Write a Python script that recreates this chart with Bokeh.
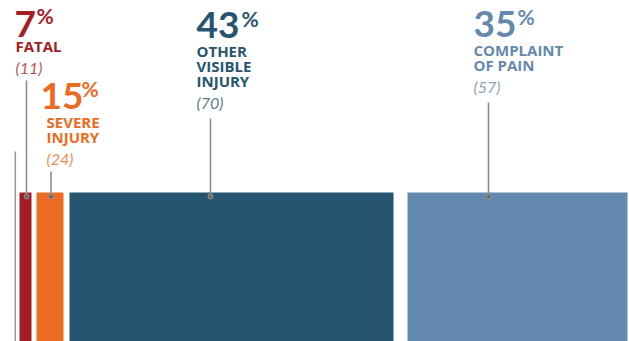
from bokeh.plotting import figure
from bokeh.models import Range1d
from bokeh.core.properties import value
from bokeh.embed import file_html
from bokeh.resources import INLINE

# ---- data ----
categories = ["FATAL", "SEVERE INJURY", "OTHER VISIBLE INJURY", "COMPLAINT OF PAIN"]
label_lines = [["FATAL"], ["SEVERE", "INJURY"], ["OTHER", "VISIBLE", "INJURY"], ["COMPLAINT", "OF PAIN"]]
percents = [7, 15, 43, 35]
counts = [11, 24, 70, 57]
colors = ["#A51D24", "#EB6B23", "#27556F", "#6489AE"]

# ---- layout (screen-like coordinates) ----
bar_left = [19, 36, 69, 407]
bar_right = [31, 63, 393, 627]
bar_top = 192
bar_bottom = 341
num_x = [14, 40, 196, 473]
num_base = [36, 108, 37, 36]
pct_x = [36, 81, 241, 517]
pct_base = [22, 95, 25, 23]
lab_x = [15, 46, 196, 473]
lab_base0 = [51, 127, 56, 55]
line_step = 15
cnt_base = [72, 163, 107, 91]
lead_x = [26, 50.5, 210, 488]
lead_top = [80, 171, 118, 102]
dot_y = 196

NUM_FS, PCT_FS, LAB_FS, CNT_FS = 37, 21, 15, 16
K = 0.34  # baseline correction (em)

W, H = 629, 341
p = figure(width=W, height=H, output_backend="svg", toolbar_location=None,
           x_range=Range1d(0, W), y_range=Range1d(H, 0),
           min_border=0, outline_line_color=None)
p.axis.visible = False
p.grid.visible = False
p.background_fill_color = "white"

# bars
p.quad(left=bar_left, right=bar_right, top=[bar_top] * 4, bottom=[bar_bottom] * 4,
       fill_color=colors, line_color=None)

# left gray rule
p.segment(x0=[14.8], y0=[151], x1=[14.8], y1=[341], line_color="#9a9a9a", line_width=1.6)

# leader lines and dots
p.segment(x0=lead_x, y0=lead_top, x1=lead_x, y1=[dot_y] * 4, line_color="#8c8c8c", line_width=1.6)
p.scatter(x=lead_x, y=[dot_y] * 4, size=5, fill_color="#6b6b6b", line_color="#9a9a9a", line_width=0.8)

num_font = value("Lato")
lab_font = value("Open Sans")

# big numbers
p.text(x=num_x, y=[b - K * NUM_FS for b in num_base], text=[str(v) for v in percents], text_color=colors,
       text_font=num_font, text_font_style="bold", text_font_size="%dpx" % NUM_FS, text_baseline="alphabetic")
p.text(x=pct_x, y=[b - K * PCT_FS for b in pct_base], text=["%"] * 4, text_color=colors,
       text_font=num_font, text_font_style="bold", text_font_size="%dpx" % PCT_FS, text_baseline="alphabetic")

# labels
lx, ly, lt, lc = [], [], [], []
for i, lines in enumerate(label_lines):
    for j, t in enumerate(lines):
        lx.append(lab_x[i]); ly.append(lab_base0[i] + j * line_step - K * LAB_FS); lt.append(t); lc.append(colors[i])
p.text(x=lx, y=ly, text=lt, text_color=lc, text_font=lab_font, text_font_style="bold",
       text_font_size="%dpx" % LAB_FS, text_baseline="alphabetic")

# counts
p.text(x=lab_x, y=[b - K * CNT_FS for b in cnt_base], text=["(%d)" % c for c in counts], text_color=colors,
       text_alpha=0.8, text_font=num_font, text_font_style="italic", text_font_size="%dpx" % CNT_FS,
       text_baseline="alphabetic")

open("out.html", "w").write(file_html(p, INLINE))
